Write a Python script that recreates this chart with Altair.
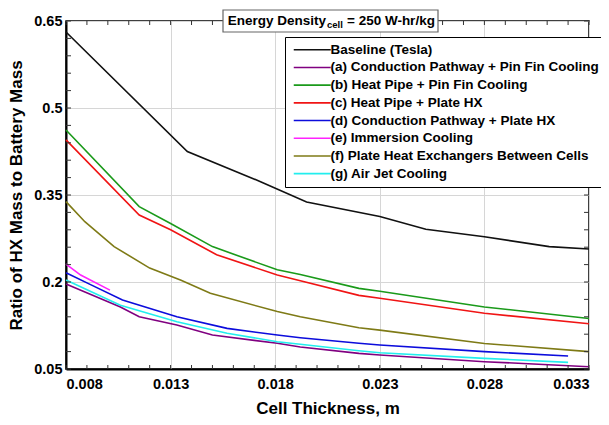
import altair as alt
import pandas as pd

# ---- data ----
series_names = [
    "Baseline (Tesla)",
    "(a) Conduction Pathway + Pin Fin Cooling",
    "(b) Heat Pipe + Pin Fin Cooling",
    "(c) Heat Pipe + Plate HX",
    "(d) Conduction Pathway + Plate HX",
    "(e) Immersion Cooling",
    "(f) Plate Heat Exchangers Between Cells",
    "(g) Air Jet Cooling",
]
series_colors = ["#111111", "#800080", "#1a9a1a", "#f01414", "#0c0cdc",
                 "#ff22ff", "#7e7a16", "#22eeee"]

base_x = [0.008, 0.0138, 0.0173, 0.0195, 0.023, 0.0252, 0.028, 0.0311, 0.033]
base_y = [0.631, 0.425, 0.373, 0.338, 0.313, 0.291, 0.278, 0.261, 0.257]

a_x = [0.008, 0.0106, 0.0115, 0.0133, 0.015, 0.0181, 0.0192, 0.022, 0.023, 0.028, 0.033]
a_y = [0.1966, 0.157, 0.140, 0.126, 0.1086, 0.0943, 0.0880, 0.077, 0.0741, 0.0626, 0.054]

b_x = [0.008, 0.0115, 0.013, 0.015, 0.0181, 0.0192, 0.022, 0.023, 0.028, 0.033]
b_y = [0.462, 0.330, 0.301, 0.261, 0.221, 0.213, 0.189, 0.184, 0.157, 0.137]

c_x = [0.008, 0.0115, 0.013, 0.0152, 0.0181, 0.0192, 0.022, 0.023, 0.028, 0.033]
c_y = [0.445, 0.3155, 0.290, 0.247, 0.212, 0.202, 0.177, 0.172, 0.146, 0.128]

d_x = [0.008, 0.0092, 0.0107, 0.0133, 0.0157, 0.0181, 0.0192, 0.022, 0.023, 0.028, 0.032]
d_y = [0.216, 0.195, 0.169, 0.140, 0.120, 0.1086, 0.104, 0.0943, 0.0914, 0.080, 0.0724]

e_x = [0.008, 0.0087, 0.0101]
e_y = [0.231, 0.212, 0.186]

f_x = [0.008, 0.0089, 0.0103, 0.012, 0.0135, 0.0149, 0.0181, 0.0192, 0.022, 0.023, 0.028, 0.033]
f_y = [0.3385, 0.304, 0.261, 0.224, 0.203, 0.1805, 0.149, 0.140, 0.121, 0.117, 0.094, 0.080]

g_x = [0.008, 0.0106, 0.0133, 0.0157, 0.0181, 0.0192, 0.022, 0.023, 0.028, 0.032]
g_y = [0.2034, 0.160, 0.1316, 0.1116, 0.097, 0.0926, 0.0816, 0.0781, 0.0684, 0.0615]

x_major = [0.008, 0.013, 0.018, 0.023, 0.028, 0.033]
y_major = [0.05, 0.2, 0.35, 0.5, 0.65]
x_minor = [round(0.008 + i * 0.001, 3) for i in range(26)]
y_minor = [round(0.05 + i * 0.03, 2) for i in range(21)]

title_main = "Energy Density"
title_sub = "cell"
title_rest = "= 250 W-hr/kg"

# ---- tables ----
all_x = [base_x, a_x, b_x, c_x, d_x, e_x, f_x, g_x]
all_y = [base_y, a_y, b_y, c_y, d_y, e_y, f_y, g_y]
rows = []
for name, xs_, ys_ in zip(series_names, all_x, all_y):
    for xv, yv in zip(xs_, ys_):
        rows.append({"series": name, "x": xv, "y": yv})
df = pd.DataFrame(rows)
xt = pd.DataFrame({"x": x_minor})
yt = pd.DataFrame({"y": y_minor})
one = pd.DataFrame({"k": [0]})

W, H = 523, 348
FONT = "Liberation Sans"

xs = alt.Scale(domain=[0.008, 0.033], nice=False, zero=False)
ys = alt.Scale(domain=[0.05, 0.65], nice=False, zero=False)
x_axis = alt.Axis(values=x_major, format=".3f", title="Cell Thickness, m",
                  ticks=False, labelPadding=8, titlePadding=10, grid=True)
y_axis = alt.Axis(values=y_major, format=".2~f", title="Ratio of HX Mass to Battery Mass",
                  ticks=False, labelPadding=4, titlePadding=8, grid=True)

lines = alt.Chart(df).mark_line(strokeWidth=1.6).encode(
    x=alt.X("x:Q", scale=xs, axis=x_axis),
    y=alt.Y("y:Q", scale=ys, axis=y_axis),
    color=alt.Color("series:N", scale=alt.Scale(domain=series_names, range=series_colors),
                    legend=alt.Legend(
                        title=None, orient="none", legendX=219, legendY=16,
                        symbolType="M-2,0H16.5", symbolSize=16, symbolStrokeWidth=1.6,
                        labelOffset=26, labelFont=FONT, labelFontSize=13.5,
                        labelFontWeight="bold", labelColor="black", labelLimit=400,
                        strokeColor="black", fillColor="white", padding=6,
                        rowPadding=2.7)),
)

tick_y_left = alt.Chart(yt).mark_rule(color="#333", strokeWidth=1).encode(
    y=alt.Y("y:Q", scale=ys, axis=y_axis), x=alt.value(0), x2=alt.value(5))
tick_y_right = alt.Chart(yt).mark_rule(color="#333", strokeWidth=1).encode(
    y=alt.Y("y:Q", scale=ys, axis=y_axis), x=alt.value(W - 5), x2=alt.value(W))
tick_x_bot = alt.Chart(xt).mark_rule(color="#333", strokeWidth=1).encode(
    x=alt.X("x:Q", scale=xs, axis=x_axis), y=alt.value(H - 4), y2=alt.value(H))
tick_x_top = alt.Chart(xt).mark_rule(color="#333", strokeWidth=1).encode(
    x=alt.X("x:Q", scale=xs, axis=x_axis), y=alt.value(0), y2=alt.value(4))

title_box = alt.Chart(one).mark_rect(fill="white", stroke="#666", strokeWidth=1.2).encode(
    x=alt.value(157), x2=alt.value(372), y=alt.value(-11), y2=alt.value(11))
t1 = alt.Chart(one).mark_text(align="right", baseline="middle", font=FONT,
                              fontSize=13.5, fontWeight="bold", color="black").encode(
    x=alt.value(260), y=alt.value(0), text=alt.value(title_main))
t2 = alt.Chart(one).mark_text(align="left", baseline="middle", font=FONT,
                              fontSize=9.5, fontWeight="bold", color="black").encode(
    x=alt.value(261), y=alt.value(4), text=alt.value(title_sub))
t3 = alt.Chart(one).mark_text(align="left", baseline="middle", font=FONT,
                              fontSize=13.5, fontWeight="bold", color="black").encode(
    x=alt.value(281), y=alt.value(0), text=alt.value(title_rest))

chart = alt.layer(
    lines, tick_y_left, tick_y_right, tick_x_bot, tick_x_top, title_box, t1, t2, t3
).properties(
    width=W, height=H,
    autosize=alt.AutoSizeParams(type="none"),
    padding={"left": 58, "top": 13, "right": 12, "bottom": 48},
).configure_view(
    stroke="black", strokeWidth=1.5
).configure_axis(
    labelFont=FONT, labelFontSize=14.5, labelFontWeight="bold", labelColor="black",
    titleFont=FONT, titleFontSize=17, titleFontWeight="bold", titleColor="black",
    domainColor="black", domainWidth=2, gridColor="#d6d6d6", gridWidth=1,
)

chart.save("out.html", embed_options={"renderer": "svg", "actions": False})
